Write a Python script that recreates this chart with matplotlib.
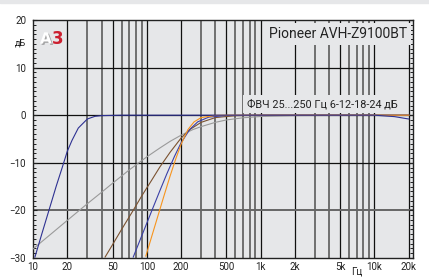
import numpy as np
import matplotlib
matplotlib.use("Agg")
import matplotlib.pyplot as plt
import matplotlib.patheffects as pe
from matplotlib.patches import Rectangle
from matplotlib import font_manager

names = set(f.name for f in font_manager.fontManager.ttflist)
main_font = 'Liberation Sans Narrow' if 'Liberation Sans Narrow' in names else 'Roboto'
plt.rcParams['font.family'] = [main_font, 'DejaVu Sans']

# values (Hz, dB)
f_25 = [10.4, 12, 14, 16, 18, 20, 22, 25, 30, 35, 40, 60, 1000, 10000, 15000, 20000]
db_25 = [-29.8, -24.8, -19.5, -14.9, -11.1, -7.6, -5.3, -2.7, -0.8, -0.24, -0.09, 0, 0, 0, -0.3, -0.8]

f_6 = [10, 15, 20, 30, 40, 50, 70, 100, 130, 160, 200, 255, 300, 400, 500, 700, 1000, 2000, 5000, 20000]
db_6 = [-28.1, -24.6, -22.1, -18.6, -16.2, -14.3, -11.5, -8.75, -6.9, -5.5, -4.2, -3.0, -2.4, -1.5, -1.0, -0.54, -0.27, -0.07, 0, 0]

f_12 = [43, 50, 60, 75, 90, 110, 130, 160, 200, 239, 300, 400, 600, 1000, 20000]
db_12 = [-29.8, -27.2, -24.0, -20.2, -17.0, -13.7, -10.9, -7.8, -4.8, -3.0, -1.5, -0.5, -0.1, 0, 0]

f_18 = [76, 90, 110, 130, 150, 175, 200, 238, 280, 350, 500, 1000, 20000]
db_18 = [-29.8, -25.4, -20.2, -15.9, -12.3, -8.65, -5.8, -3.0, -1.4, -0.4, -0.05, 0, 0]

f_24 = [98, 110, 125, 140, 160, 180, 200, 230, 260, 300, 400, 500, 20000]
db_24 = [-29.6, -25.6, -21.2, -17.3, -12.8, -9.1, -6.1, -3.0, -1.4, -0.5, -0.05, 0, 0]

xticks = [10, 20, 50, 100, 200, 500, 1000, 2000, 5000, 10000, 20000]
xtick_labels = ['10', '20', '50', '100', '200', '500', '1k', '2k', '5k', '10k', '20k']
yticks = [-30, -20, -10, 0, 10, 20]

fig = plt.figure(figsize=(4.29, 2.8), dpi=100)
fig.patches.append(Rectangle((0, 0.988), 1, 0.012, transform=fig.transFigure,
                             color='#e6e7e9', zorder=0))
ax = fig.add_axes([33 / 429, 1 - 258 / 280, 380 / 429, 238 / 280])
ax.set_facecolor('#e6e7e9')
ax.set_xscale('log')
ax.set_xlim(10, 21800)
ax.set_ylim(-30, 20)

# grid
for dec in [10, 100, 1000, 10000]:
    for m in range(1, 10):
        f = dec * m
        if f <= 10 or f > 20000:
            continue
        if m in (1, 2, 5):
            ax.axvline(f, color='#111111', lw=0.9, zorder=1)
        else:
            ax.axvline(f, color='#666666', lw=1.3, zorder=1)
for y in [10, 0, -10]:
    ax.axhline(y, color='#111111', lw=0.9, zorder=1)
ax.axhline(-20, color='#666666', lw=1.4, zorder=1)

ax.plot(f_6, db_6, color='#9a9a9a', lw=0.8, zorder=3)
ax.plot(f_12, db_12, color='#7b5230', lw=0.8, zorder=3)
ax.plot(f_18, db_18, color='#3a3fa6', lw=0.8, zorder=3)
ax.plot(f_24, db_24, color='#f7941d', lw=0.8, zorder=3)
ax.plot(f_25, db_25, color='#2e3192', lw=0.8, zorder=4)

ax.set_xticks(xticks)
ax.set_xticklabels(xtick_labels)
ax.xaxis.set_minor_locator(matplotlib.ticker.NullLocator())
ax.set_yticks(yticks)
ax.set_yticks(np.arange(-30, 21, 1), minor=True)
ax.tick_params(axis='x', length=0, labelsize=7, pad=3, colors='#222222')
ax.tick_params(axis='y', which='major', length=3, direction='in', labelsize=7,
               pad=5, colors='#222222', right=True)
ax.tick_params(axis='y', which='minor', length=2, direction='in', right=True,
               width=0.6)
for s in ax.spines.values():
    s.set_color('#222222')
    s.set_linewidth(1.0)

ax.text(0.984, 0.94, 'Pioneer AVH-Z9100BT', transform=ax.transAxes, ha='right',
        va='center', fontsize=10, color='#222222', zorder=6,
        bbox=dict(facecolor='#e6e7e9', edgecolor='none', pad=3))
ax.text(0.96, 0.647, 'ФВЧ 25...250 Гц 6-12-18-24 дБ', transform=ax.transAxes,
        ha='right', va='center', fontsize=7.8, color='#222222', zorder=6,
        bbox=dict(facecolor='#e6e7e9', edgecolor='none', pad=3))

fig.text(20 / 429, 1 - 43 / 280, 'дБ', ha='center', va='center', fontsize=6.5,
         color='#222222')
fig.text(357 / 429, 1 - 272 / 280, 'Гц', ha='center', va='center', fontsize=7,
         color='#222222')

fig.text(40 / 429, 1 - 39 / 280, 'А', ha='left', va='center', fontsize=11,
         fontweight='bold', color='white', family='DejaVu Sans',
         path_effects=[pe.withSimplePatchShadow(offset=(1, -1), shadow_rgbFace='#888888', alpha=0.7)])
fig.text(52 / 429, 1 - 39 / 280, '3', ha='left', va='center', fontsize=12,
         fontweight='bold', color='#cc1f2f', family='DejaVu Sans')

fig.savefig('out.png', dpi=100)
